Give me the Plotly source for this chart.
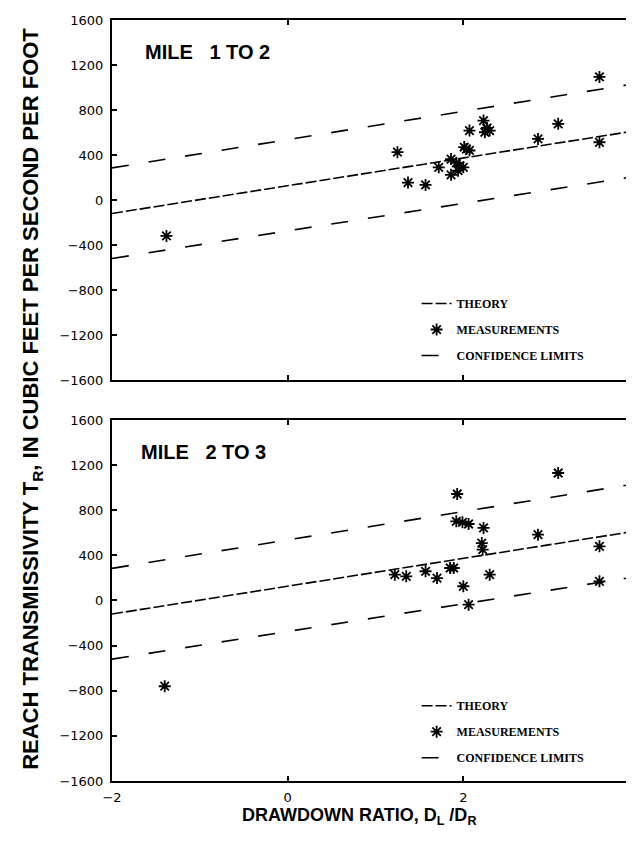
import plotly.graph_objects as go

# ---- data ----
line_x = [-2, 4]
theory_y = [-120, 620]
upper_y = [285, 1040]
lower_y = [-520, 215]

top_x = [-1.38, 1.25, 1.37, 1.57, 1.72, 1.86, 1.86, 1.92, 1.96, 2.00, 1.94,
         2.01, 2.035, 2.07, 2.07, 2.23, 2.245, 2.30, 2.27, 2.85, 3.08, 3.55, 3.55]
top_y = [-320, 425, 155, 134, 290, 364, 224, 330, 304, 290, 260,
         470, 453, 440, 617, 706, 602, 617, 640, 543, 677, 1094, 513]

bot_x = [-1.40, 3.08, 1.93, 1.92, 1.99, 2.06, 2.23, 2.21, 2.22, 2.85, 3.55,
         3.55, 1.22, 1.35, 1.57, 1.70, 1.85, 1.89, 2.00, 2.30, 2.06]
bot_y = [-760, 1130, 944, 702, 693, 678, 643, 509, 450, 583, 480,
         170, 229, 214, 259, 199, 288, 288, 126, 229, -37]

x_ticks = [-2, 0, 2, 4]
y_ticks = [-1600, -1200, -800, -400, 0, 400, 800, 1200, 1600]

panel_titles = ["MILE\u00a0\u00a0 1 TO 2", "MILE\u00a0\u00a0 2 TO 3"]
legend_names = ["THEORY", "MEASUREMENTS", "CONFIDENCE LIMITS"]

theory_dash = "11px,3px"
conf_dash = "17px,20px"

fig = go.Figure()

panels = [("x", "y", "legend", top_x, top_y), ("x2", "y2", "legend2", bot_x, bot_y)]
for xa, ya, lg, px, py in panels:
    fig.add_trace(go.Scatter(x=line_x, y=theory_y, mode="lines", name=legend_names[0],
                             line=dict(color="black", width=1.6, dash=theory_dash),
                             xaxis=xa, yaxis=ya, legend=lg, legendgroup=lg + "a"))
    fig.add_trace(go.Scatter(x=px, y=py, mode="markers", name=legend_names[1],
                             marker=dict(symbol="asterisk-open", size=10, color="black",
                                         line=dict(color="black", width=1.8)),
                             xaxis=xa, yaxis=ya, legend=lg, legendgroup=lg + "b"))
    fig.add_trace(go.Scatter(x=line_x, y=upper_y, mode="lines", name=legend_names[2],
                             line=dict(color="black", width=1.6, dash=conf_dash),
                             xaxis=xa, yaxis=ya, legend=lg, legendgroup=lg + "c"))
    fig.add_trace(go.Scatter(x=line_x, y=lower_y, mode="lines", name=legend_names[2],
                             line=dict(color="black", width=1.6, dash=conf_dash),
                             xaxis=xa, yaxis=ya, legend=lg, legendgroup=lg + "c",
                             showlegend=False))

tick_font = dict(family="DejaVu Sans", size=13, color="black")
axis_common = dict(showline=True, linecolor="black", linewidth=2, mirror="ticks",
                   ticks="inside", ticklen=5, tickwidth=1.5, tickcolor="black",
                   showgrid=False, zeroline=False, tickfont=tick_font, automargin=False)

legend_font = dict(family="Liberation Serif", size=12, color="black", weight="bold")

fig.update_layout(
    width=634, height=845,
    margin=dict(l=104, r=3, t=12, b=72),
    paper_bgcolor="white", plot_bgcolor="white",
    xaxis=dict(domain=[0, 1], anchor="y", range=[-2, 4], tickvals=x_ticks,
               showticklabels=False, **axis_common),
    yaxis=dict(domain=[0.527, 1], anchor="x", range=[-1600, 1600], tickvals=y_ticks,
               ticklabelstandoff=4, **axis_common),
    xaxis2=dict(domain=[0, 1], anchor="y2", range=[-2, 4], tickvals=x_ticks,
                ticklabelstandoff=3, **axis_common),
    yaxis2=dict(domain=[0, 0.4744], anchor="x2", range=[-1600, 1600], tickvals=y_ticks,
                ticklabelstandoff=4, **axis_common),
    legend=dict(x=0.578, y=0.6465, xanchor="left", yanchor="top", bgcolor="rgba(0,0,0,0)",
                tracegroupgap=7, traceorder="grouped", font=legend_font),
    legend2=dict(x=0.578, y=0.118, xanchor="left", yanchor="top", bgcolor="rgba(0,0,0,0)",
                 tracegroupgap=7, traceorder="grouped", font=legend_font),
    showlegend=True,
)

title_font = dict(family="Liberation Sans", size=20, color="black", weight="bold")
fig.add_annotation(text=panel_titles[0], xref="paper", yref="paper", x=0.058, y=0.958,
                   xanchor="left", yanchor="middle", showarrow=False, font=title_font)
fig.add_annotation(text=panel_titles[1], xref="paper", yref="paper", x=0.052, y=0.4317,
                   xanchor="left", yanchor="middle", showarrow=False, font=title_font)
fig.add_annotation(text="DRAWDOWN RATIO, D<sub>L</sub> /D<sub>R</sub>", xref="paper", yref="paper",
                   x=0.4696, y=-0.046, xanchor="center", yanchor="middle", showarrow=False,
                   font=dict(family="Liberation Sans", size=18, color="black", weight="bold"))
fig.add_annotation(text="REACH TRANSMISSIVITY T<sub>R</sub>, IN CUBIC FEET PER SECOND PER FOOT",
                   xref="paper", yref="paper", x=-0.152, y=0.502, xanchor="center",
                   yanchor="middle", textangle=-90, showarrow=False,
                   font=dict(family="Liberation Sans", size=22, color="black", weight="bold"))

fig.write_html("out.html")
